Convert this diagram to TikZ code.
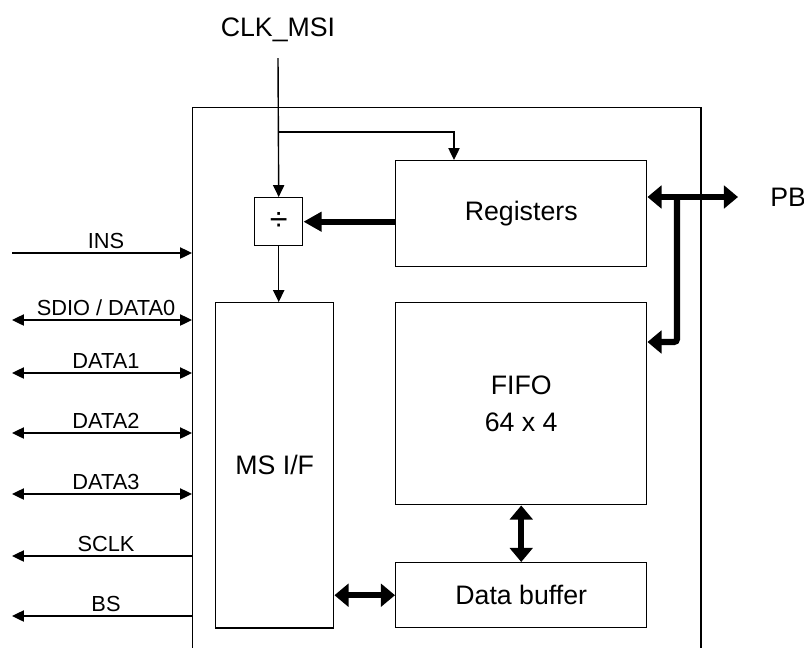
\documentclass[tikz,border=0pt]{standalone}
\usepackage{fontspec}
\setmainfont{Liberation Sans}
\usetikzlibrary{positioning,arrows.meta}

\begin{document}
\begin{tikzpicture}[x=0.025cm,y=-0.025cm,
  smalltip/.tip={Triangle[length=8.5pt,width=8pt]},
  bigtip/.tip={Triangle[length=10pt,width=16pt]},
  blk/.style={draw,line width=1pt,rectangle,inner sep=0pt,anchor=north west,
    align=center,font=\fontsize{19}{26}\selectfont},
  sig/.style={line width=1pt,>=smalltip},
  bus/.style={line width=4.3pt,>=bigtip},
  lbl/.style={above,inner sep=2.5pt,font=\fontsize{15.5}{18}\selectfont}]
  \useasboundingbox (0,0) rectangle (804,647);
  \clip (0,0) rectangle (804,647);
  % chip outline (bottom edge runs off the page)
  \node[draw,line width=1pt,minimum width=12.7cm,minimum height=14.5cm,
    inner sep=0pt,anchor=north west] (chip) at (192,107) {};
  % blocks
  \node[blk,minimum width=6.275cm,minimum height=2.65cm] (reg) at (395,160) {Registers};
  \node[blk,minimum width=6.275cm,minimum height=5.05cm] (fifo) at (395,302) {FIFO\\64 x 4};
  \node[blk,minimum width=6.275cm,minimum height=1.625cm] (buf) at (395,562) {Data buffer};
  \node[blk,minimum width=2.95cm,minimum height=8.125cm] (msif) at (215,302) {MS I/F};
  \node[blk,minimum width=1.2cm,minimum height=1.2cm,font=\fontsize{23}{26}\selectfont]
    (div) at (254,197) {÷};
  % outside labels
  \node[font=\fontsize{19}{23}\selectfont] (clk) at (278,30) {CLK\_MSI};
  \node[font=\fontsize{19}{23}\selectfont,anchor=west,inner sep=0pt] (pb) at (770,197) {PB};
  % clock path
  \coordinate (clkin) at (278,58);
  \coordinate (br) at (278,132);
  \coordinate (regin) at (454,160);
  \draw[sig,->] (clkin) -- (div.north);
  \draw[sig,->] (br) -| (regin);
  \draw[sig,->] (div.south) -- (div.south |- msif.north);
  \draw[bus,-{Triangle[length=13pt,width=13.5pt]}] (reg.west |- div.east) -- (div.east);
  % peripheral bus PB
  \coordinate (pbend) at (738,197);
  \coordinate (tap) at (677,197);
  \coordinate (fifoin) at ([yshift=-1cm]fifo.north east);
  \draw[bus,<->] (reg.east |- tap) -- (pbend);
  \draw[bus,->,rounded corners=2pt] (tap) |- (fifoin);
  % data path
  \draw[bus,<->] (fifo.south) -- (buf.north);
  \draw[bus,<->] (msif.east |- buf.west) -- (buf.west);
  % card pins
  \foreach \y/\name/\dir [count=\i] in {253/INS/->, 320/{SDIO / DATA0}/<->,
      373/DATA1/<->, 433/DATA2/<->, 494/DATA3/<->, 556/SCLK/<-, 616/BS/<-}
  {
    \coordinate (pin\i) at (12,\y);
    \draw[sig,\dir] (pin\i) -- node[lbl,xshift=0.1cm] {\name} (pin\i -| chip.west);
  }
\end{tikzpicture}
\end{document}
